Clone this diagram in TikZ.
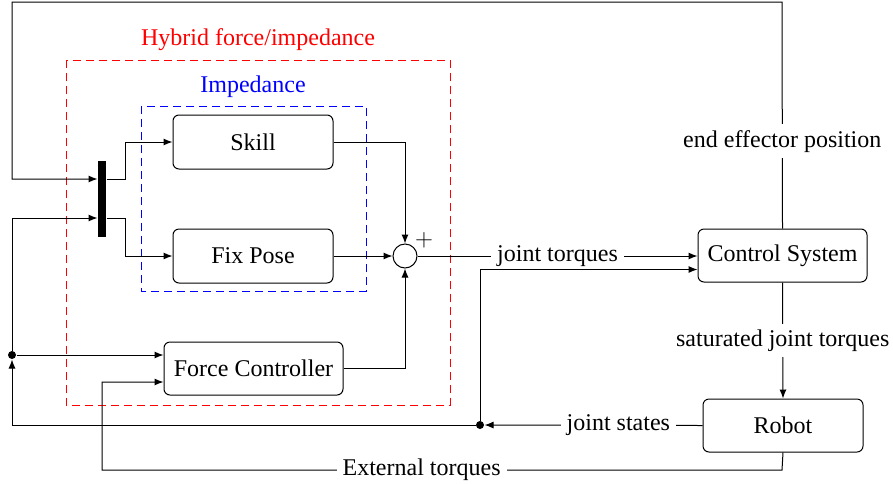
\documentclass[tikz,border=0pt]{standalone}
\usepackage{fontspec}
\setmainfont{Liberation Serif}
\usetikzlibrary{arrows.meta,calc}
\begin{document}
\begin{tikzpicture}[x=1pt,y=-1pt,
  line width=1pt,
  font=\fontsize{24}{28}\selectfont,
  arr/.style={-{Latex[length=9pt,width=7pt]}},
  blk/.style={draw,rounded corners=6pt,minimum width=160pt,minimum height=54pt,inner sep=0pt},
  lbl/.style={fill=white,inner sep=6pt},
  dotn/.style={circle,fill=black,inner sep=0pt,minimum size=8pt},
  grp/.style={dash pattern=on 8pt off 5pt,line width=0.8pt}]
\useasboundingbox (0,0) rectangle (893,483);

% groups
\draw[grp,red] (66,60) rectangle (450,405);
\node[red] (hyb) at (258,40) {Hybrid force/impedance};
\draw[grp,blue] (141,106) rectangle (366,291);
\node[blue] (imp) at (253,87) {Impedance};

% blocks
\node[blk] (skill) at (253,142) {Skill};
\node[blk] (fix) at (253,256) {Fix Pose};
\node[blk,minimum width=179pt,minimum height=53pt] (fc) at (253.5,368.5) {Force Controller};
\node[blk,minimum width=169pt,minimum height=53pt] (cs) at (782.5,255.5) {Control System};
\node[blk,minimum width=160pt,minimum height=53pt] (robot) at (783,425.5) {Robot};
\node[fill=black,minimum width=8pt,minimum height=76pt,inner sep=0pt] (mux) at (102,199) {};
\node[circle,draw,minimum size=24pt,inner sep=0pt] (sum) at (405,256) {};
\node (plus) at (424,240) {$+$};
\node[dotn] (j1) at (480,425) {};
\node[dotn] (j2) at (12,355) {};
\coordinate (tr) at (782,2);
\coordinate (tl) at (12,2);
\coordinate (eb) at (782,470);
\coordinate (el) at (102,470);

% connectors
\draw[arr] ([yshift=20pt]mux.east) -- ++(19,0) |- (skill.west);
\draw[arr] ([yshift=-19pt]mux.east) -- ++(19,0) |- (fix.west);
\draw[arr] (skill.east) -| (sum.north);
\draw[arr] (fix.east) -- (sum.west);
\draw[arr] (fc.east) -| (sum.south);
\draw[arr] (sum.east) -- node[lbl]{joint torques} (sum.east -| cs.west);
\draw[arr] (j1) |- ([yshift=-14pt]cs.west);
\draw[arr] (cs.south) -- node[lbl,pos=0.5]{saturated joint torques} (robot.north);
\draw[arr] (robot.west) -- node[lbl,pos=0.386]{joint states} (j1);
\draw[arr] (j1) -| (j2);
\draw[arr] (j2) -- (j2 -| fc.west);
\draw[arr] (j2) |- ([yshift=-19pt]mux.west);
\draw[arr] (cs.north) -- node[lbl,pos=0.385]{end effector position} (tr) -- (tl) |- ([yshift=20pt]mux.west);
\draw[arr] (robot.south) -- (eb) -- node[lbl,pos=0.53]{External torques} (el) |- ([yshift=-13.5pt]fc.west);
\end{tikzpicture}
\end{document}
